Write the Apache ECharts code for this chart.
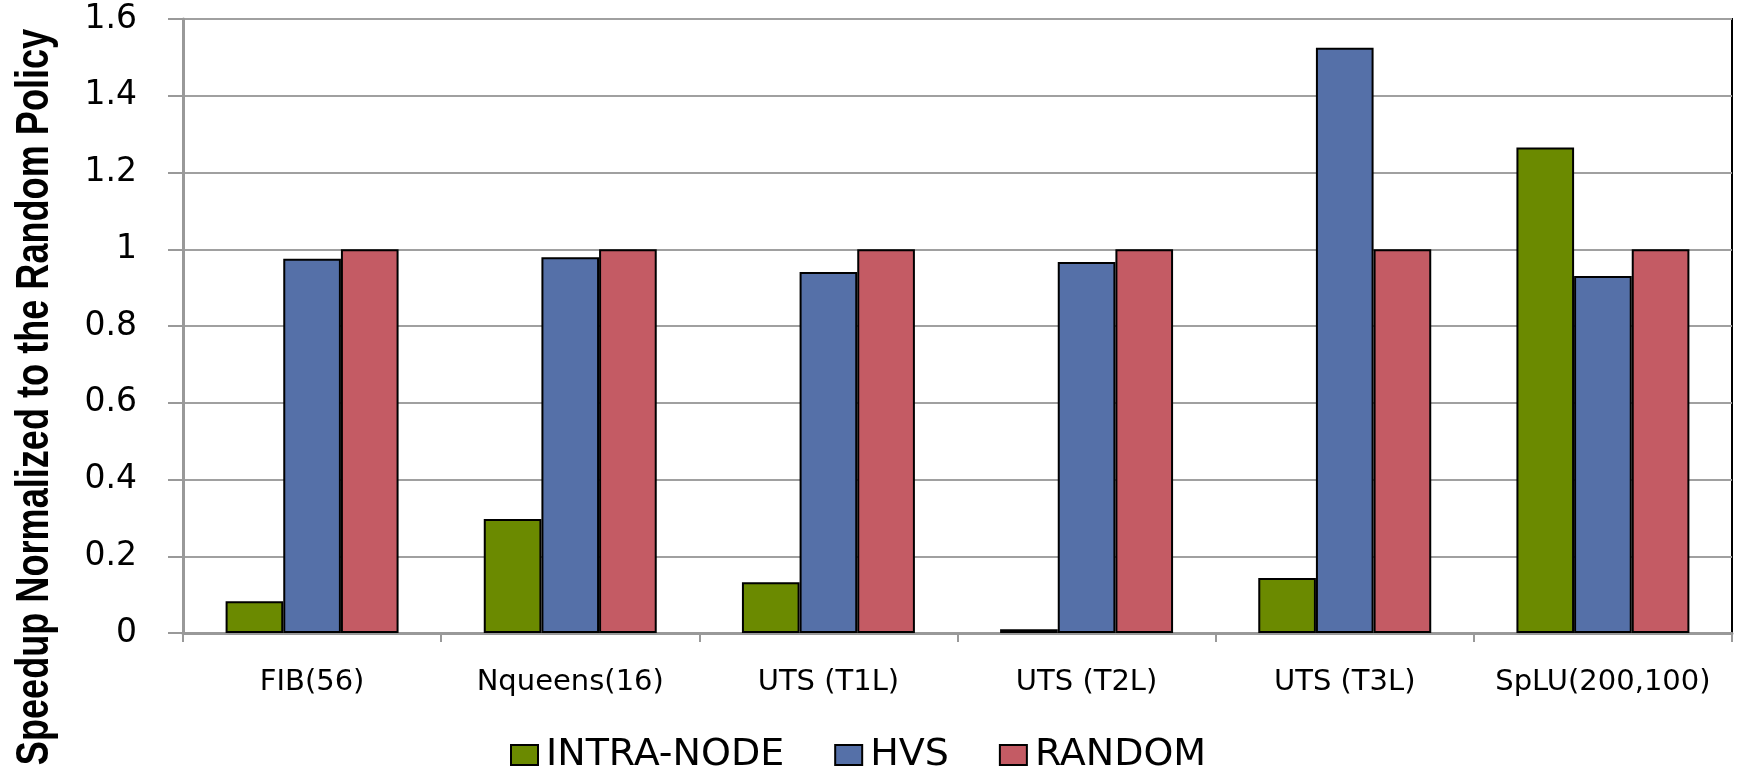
<!DOCTYPE html>
<html><head><meta charset="utf-8">
<script src="https://cdn.jsdelivr.net/npm/echarts@6/dist/echarts.min.js"></script>
<style>html,body{margin:0;padding:0;background:#fff}#c{width:1742px;height:770px}</style>
</head><body><div id="c"></div>
<script>
const categories = ['FIB(56)', 'Nqueens(16)', 'UTS (T1L)', 'UTS (T2L)', 'UTS (T3L)', 'SpLU(200,100)'];
const intraNode = [0.083, 0.297, 0.132, 0.01, 0.143, 1.265];
const hvs = [0.975, 0.979, 0.941, 0.967, 1.525, 0.930];
const random = [1, 1, 1, 1, 1, 1];
const yTicks = [0, 0.2, 0.4, 0.6, 0.8, 1, 1.2, 1.4, 1.6];
const seriesNames = ['INTRA-NODE', 'HVS', 'RANDOM'];
const yTitle = 'Speedup Normalized to the Random Policy';

const sans = '"DejaVu Sans", Verdana, sans-serif';
const bold = '"Liberation Sans", Arial, sans-serif';

const chart = echarts.init(document.getElementById('c'));
const barStyle = c => ({color: c, borderColor: '#000', borderWidth: 2});
chart.setOption({
  animation: false,
  grid: {left: 183, right: 10, top: 19, bottom: 137, show: true, borderColor: '#000', borderWidth: 2},
  legend: {
    left: 505, top: 731, itemWidth: 27, itemHeight: 20, itemGap: 50,
    textStyle: {fontFamily: sans, fontSize: 38, color: '#000', padding: [0,0,0,3]},
    data: seriesNames.map(n => ({name: n, icon: 'rect', itemStyle: {borderColor: '#000', borderWidth: 2}}))
  },
  xAxis: {
    type: 'category', data: categories,
    axisLine: {lineStyle: {color: '#999', width: 3}},
    axisTick: {show: true, interval: 0, length: 9, lineStyle: {color: '#999', width: 2}},
    axisLabel: {interval: 0, hideOverlap: false, margin: 35, color: '#000', fontFamily: sans, fontSize: 29}
  },
  yAxis: {
    type: 'value', min: 0, max: 1.6, interval: 0.2,
    axisLine: {show: true, lineStyle: {color: '#999', width: 3}},
    axisTick: {show: true, length: 15, lineStyle: {color: '#999', width: 2}},
    splitLine: {lineStyle: {color: '#A0A0A0', width: 2}},
    axisLabel: {
      margin: 46, color: '#000', fontFamily: sans, fontSize: 33,
      formatter: v => { const t = yTicks.find(x => Math.abs(x - v) < 1e-9); return t === undefined ? '' : String(t); }
    }
  },
  graphic: [{
    type: 'text', x: 35, y: 397, rotation: Math.PI / 2, scaleX: 0.785,
    style: {text: yTitle, fontFamily: bold, fontWeight: 'bold', fontSize: 46, fill: '#000', textAlign: 'center', textVerticalAlign: 'middle'}
  }],
  series: [
    {name: seriesNames[0], type: 'bar', data: intraNode, barGap: '0%', barCategoryGap: '33%', itemStyle: barStyle('#6B8A00')},
    {name: seriesNames[1], type: 'bar', data: hvs, itemStyle: barStyle('#5570A8')},
    {name: seriesNames[2], type: 'bar', data: random, itemStyle: barStyle('#C45B64')}
  ]
});
</script></body></html>
